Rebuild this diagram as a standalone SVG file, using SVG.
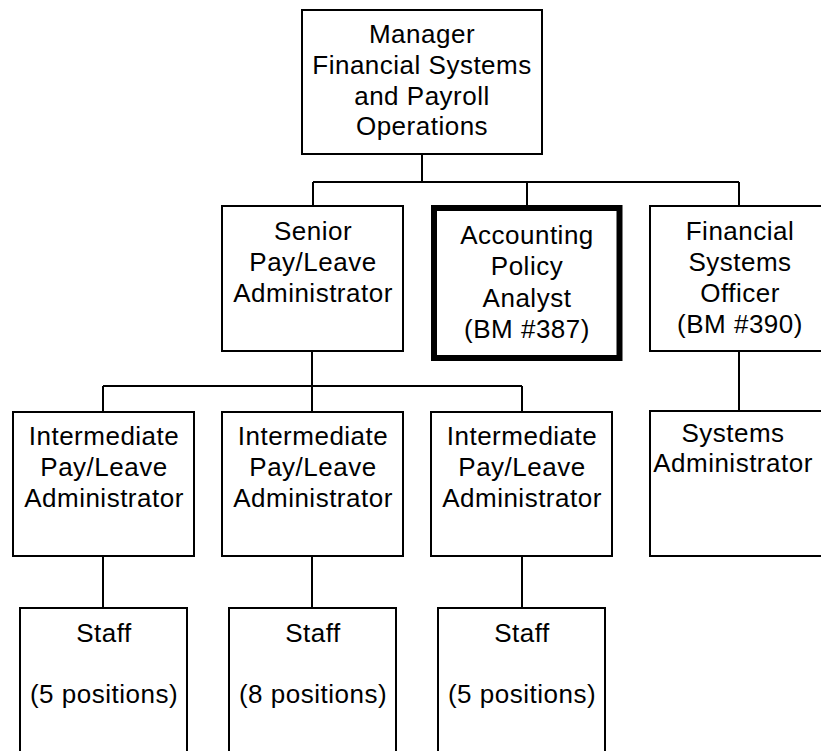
<svg xmlns="http://www.w3.org/2000/svg" width="821" height="751" viewBox="0 0 821 751">
<style>
.box{fill:#fff;stroke:#000;stroke-width:2}
.thick{fill:#fff;stroke:#000;stroke-width:6}
.t{font-family:"Liberation Sans",Arial,sans-serif;font-size:26px;letter-spacing:0.5px;fill:#000;text-anchor:middle}
.c{stroke:#000;stroke-width:2;fill:none}
</style>
<rect width="821" height="751" fill="#fff"/>
<g id="connectors">
<path class="c" d="M422,155V182M313,182H739M313,182V205M527,182V205M739,182V205"/>
<path class="c" d="M312,352V386M103,386H522M103,386V411M312,386V411M522,386V411"/>
<path class="c" d="M103,557V607M312,557V607M522,557V607M739,352V410"/>
</g>
<g id="manager">
<rect class="box" x="302" y="10" width="240" height="144"/>
<text class="t" x="422" y="43">Manager</text>
<text class="t" x="422" y="74">Financial Systems</text>
<text class="t" x="422" y="105">and Payroll</text>
<text class="t" x="422" y="135">Operations</text>
</g>
<g id="senior">
<rect class="box" x="222" y="206" width="181" height="145"/>
<text class="t" x="313" y="240">Senior</text>
<text class="t" x="313" y="271">Pay/Leave</text>
<text class="t" x="313" y="302">Administrator</text>
</g>
<g id="accounting">
<rect class="thick" x="434" y="208" width="185.5" height="150"/>
<text class="t" x="527" y="244">Accounting</text>
<text class="t" x="527" y="275">Policy</text>
<text class="t" x="527" y="307">Analyst</text>
<text class="t" x="527" y="338">(BM #387)</text>
</g>
<g id="financial">
<rect class="box" x="650" y="206" width="182" height="145"/>
<text class="t" x="740" y="240">Financial</text>
<text class="t" x="740" y="271">Systems</text>
<text class="t" x="740" y="302">Officer</text>
<text class="t" x="740" y="333">(BM #390)</text>
</g>
<g id="intermediate1">
<rect class="box" x="13" y="412" width="181" height="144"/>
<text class="t" x="104" y="445">Intermediate</text>
<text class="t" x="104" y="476">Pay/Leave</text>
<text class="t" x="104" y="507">Administrator</text>
</g>
<g id="intermediate2">
<rect class="box" x="222" y="412" width="181" height="144"/>
<text class="t" x="313" y="445">Intermediate</text>
<text class="t" x="313" y="476">Pay/Leave</text>
<text class="t" x="313" y="507">Administrator</text>
</g>
<g id="intermediate3">
<rect class="box" x="431" y="412" width="181" height="144"/>
<text class="t" x="522" y="445">Intermediate</text>
<text class="t" x="522" y="476">Pay/Leave</text>
<text class="t" x="522" y="507">Administrator</text>
</g>
<g id="sysadmin">
<rect class="box" x="650" y="411" width="182" height="145"/>
<text class="t" x="733" y="442">Systems</text>
<text class="t" x="733" y="472">Administrator</text>
</g>
<g id="staff1">
<rect class="box" x="20" y="608" width="167" height="200"/>
<text class="t" x="104" y="642">Staff</text>
<text class="t" x="104" y="703">(5 positions)</text>
</g>
<g id="staff2">
<rect class="box" x="229" y="608" width="167" height="200"/>
<text class="t" x="313" y="642">Staff</text>
<text class="t" x="313" y="703">(8 positions)</text>
</g>
<g id="staff3">
<rect class="box" x="438" y="608" width="167" height="200"/>
<text class="t" x="522" y="642">Staff</text>
<text class="t" x="522" y="703">(5 positions)</text>
</g>
</svg>
